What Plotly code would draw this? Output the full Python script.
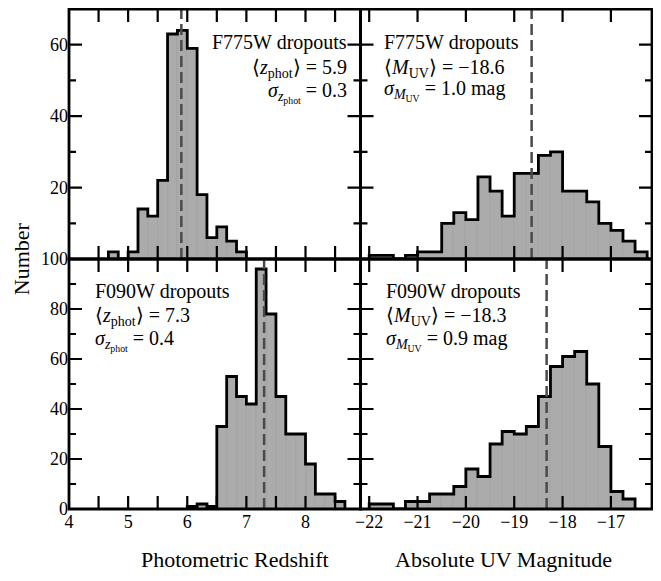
# _*_ coding: utf-8 _*_

"""
redshift / UV magnitude histograms of F775W and F090W dropouts
"""

import plotly.graph_objects as go
from plotly.subplots import make_subplots

# data ===============================================================================================================================
# photometric redshift histograms (bin width 1/6)
Z_WIDTH = 1 / 6
Z_LO_F775W = 4 + 4 / 6
Z_CNT_F775W = [2, 0, 2, 14, 12, 22, 63, 64, 59, 18, 6, 9, 5, 2]
Z_LO_F090W = 6.0
Z_CNT_F090W = [1, 2, 1, 33, 53, 45, 42, 96, 78, 45, 30, 30, 18, 6, 6, 3]

# absolute UV magnitude histograms (bin width 0.25 mag)
M_WIDTH = 0.25
M_LO_F775W = -22.0
M_CNT_F775W = [1, 1, 0, 1, 2, 2, 10, 13, 11, 23, 19, 12, 24, 24, 29, 30, 19, 19, 16, 10, 8, 5, 2]
M_LO_F090W = -22.0
M_CNT_F090W = [2, 2, 0, 3, 3, 6, 6, 9, 16, 13, 26, 31, 30, 33, 45, 57, 61, 63, 50, 25, 7, 4]

# means drawn as dashed lines
Z_MEAN = [5.9, 7.3]
M_MEAN = [-18.64, -18.33]

# axis ranges and tick positions
Z_RANGE = [4.0, 8.93]
M_RANGE = [-22.18, -16.15]
Y_TOP_RANGE = [0, 70]
Y_BOT_RANGE = [0, 100]
Z_TICKS = [4.5, 5, 5.5, 6, 6.5, 7, 7.5, 8, 8.5]
M_TICKS = [-22, -21, -20, -19, -18, -17]
Y_TOP_MAJOR = [20, 40, 60]
Y_TOP_MINOR = [10, 30, 50]
Y_BOT_MAJOR = [20, 40, 60, 80]
Y_BOT_MINOR = [10, 30, 50, 70, 90]

# panel labels
LABELS = [
    ["F775W dropouts", "⟨<i>z</i><sub>phot</sub>⟩ = 5.9", "<i>σ</i><sub><i>z</i><sub>phot</sub></sub> = 0.3"],
    ["F775W dropouts", "⟨<i>M</i><sub>UV</sub>⟩ = −18.6", "<i>σ</i><sub><i>M</i><sub>UV</sub></sub> = 1.0 mag"],
    ["F090W dropouts", "⟨<i>z</i><sub>phot</sub>⟩ = 7.3", "<i>σ</i><sub><i>z</i><sub>phot</sub></sub> = 0.4"],
    ["F090W dropouts", "⟨<i>M</i><sub>UV</sub>⟩ = −18.3", "<i>σ</i><sub><i>M</i><sub>UV</sub></sub> = 0.9 mag"],
]

FONT = "Liberation Serif"
FILL = "#ababab"
LW = 2.8  # frame line width
PANEL_W = 291.5  # panel size in px, used for tick lengths
PANEL_H = 250.0


def add_hist(fig, lo, width, counts, row, col):
    edges = [lo + i * width for i in range(len(counts) + 1)]
    centers = [(edges[i] + edges[i + 1]) / 2 for i in range(len(counts))]
    fig.add_trace(go.Bar(x=centers, y=counts, width=width, marker=dict(color=FILL, line=dict(color="#9c9c9c", width=0.6)),
                         showlegend=False, hoverinfo="skip"), row=row, col=col)
    xs = [edges[0]] + edges[:-1] + [edges[-1], edges[-1]]
    ys = [0] + counts + [counts[-1], 0]
    fig.add_trace(go.Scatter(x=xs, y=ys, mode="lines", line=dict(color="black", width=2.8, shape="hv"),
                             showlegend=False, hoverinfo="skip"), row=row, col=col)


def add_ticks(fig, xrange, yrange, xticks, ymajor, yminor, row, col):
    # inward ticks on all four sides of a panel, as one line trace with gaps
    xpp = (xrange[1] - xrange[0]) / PANEL_W
    ypp = (yrange[1] - yrange[0]) / PANEL_H
    xs, ys = [], []
    for v in xticks:
        xs += [v, v, None, v, v, None]
        ys += [yrange[0], yrange[0] + 13 * ypp, None, yrange[1], yrange[1] - 13 * ypp, None]
    for vals, ln in [(ymajor, 13), (yminor, 7)]:
        for v in vals:
            xs += [xrange[0], xrange[0] + ln * xpp, None, xrange[1], xrange[1] - ln * xpp, None]
            ys += [v, v, None, v, v, None]
    fig.add_trace(go.Scatter(x=xs, y=ys, mode="lines", line=dict(color="black", width=2.2), connectgaps=False,
                             showlegend=False, hoverinfo="skip"), row=row, col=col)


fig = make_subplots(rows=2, cols=2, horizontal_spacing=0, vertical_spacing=0)

add_hist(fig, Z_LO_F775W, Z_WIDTH, Z_CNT_F775W, 1, 1)
add_hist(fig, M_LO_F775W, M_WIDTH, M_CNT_F775W, 1, 2)
add_hist(fig, Z_LO_F090W, Z_WIDTH, Z_CNT_F090W, 2, 1)
add_hist(fig, M_LO_F090W, M_WIDTH, M_CNT_F090W, 2, 2)

add_ticks(fig, Z_RANGE, Y_TOP_RANGE, Z_TICKS, Y_TOP_MAJOR, Y_TOP_MINOR, 1, 1)
add_ticks(fig, M_RANGE, Y_TOP_RANGE, M_TICKS, Y_TOP_MAJOR, Y_TOP_MINOR, 1, 2)
add_ticks(fig, Z_RANGE, Y_BOT_RANGE, Z_TICKS, Y_BOT_MAJOR, Y_BOT_MINOR, 2, 1)
add_ticks(fig, M_RANGE, Y_BOT_RANGE, M_TICKS, Y_BOT_MAJOR, Y_BOT_MINOR, 2, 2)

# dashed mean lines and panel frames
for xr, yr, val in [("x", "y", Z_MEAN[0]), ("x2", "y2", M_MEAN[0]), ("x3", "y3", Z_MEAN[1]), ("x4", "y4", M_MEAN[1])]:
    fig.add_shape(type="line", xref=xr, yref=yr + " domain", x0=val, x1=val, y0=0, y1=1,
                  line=dict(color="#4a4a4a", width=2.5, dash="11px,5px"), layer="above")
    fig.add_shape(type="rect", xref=xr + " domain", yref=yr + " domain", x0=0, x1=1, y0=0, y1=1,
                  line=dict(color="black", width=LW), layer="above")

# axes
tfont = dict(family=FONT, size=18, color="black")
common = dict(showline=False, ticks="", showgrid=False, zeroline=False, tickfont=tfont)
zx = dict(common, range=Z_RANGE, dtick=1, tick0=0)
mx = dict(common, range=M_RANGE, dtick=1, tick0=0)

fig.update_layout(
    template="none",
    xaxis=dict(zx, showticklabels=False),
    xaxis3=dict(zx),
    xaxis2=dict(mx, showticklabels=False),
    xaxis4=dict(mx),
    yaxis=dict(common, range=Y_TOP_RANGE, tickvals=[20, 40, 60]),
    yaxis2=dict(common, range=Y_TOP_RANGE, showticklabels=False),
    yaxis3=dict(common, range=Y_BOT_RANGE, tickvals=[0, 20, 40, 60, 80, 100]),
    yaxis4=dict(common, range=Y_BOT_RANGE, showticklabels=False),
)

# panel texts
panel_pos = [("x", "y", 0.96, "right"), ("x2", "y2", 0.075, "left"), ("x3", "y3", 0.082, "left"), ("x4", "y4", 0.082, "left")]
line_y = [[0.868, 0.764, 0.664], [0.868, 0.764, 0.672], [0.872, 0.772, 0.676], [0.872, 0.772, 0.676]]
for (xr, yr, px, align), lines, ys in zip(panel_pos, LABELS, line_y):
    for txt, py in zip(lines, ys):
        fig.add_annotation(text=txt, xref=xr + " domain", yref=yr + " domain", x=px, y=py, xanchor=align, yanchor="middle",
                           showarrow=False, font=dict(family=FONT, size=20, color="black"))

# axis titles
title_font = dict(family=FONT, size=22, color="black")
fig.add_annotation(text="Number", xref="paper", yref="paper", x=-0.082, y=0.5, textangle=-90, showarrow=False,
                   xanchor="center", yanchor="middle", font=title_font)
fig.add_annotation(text="Photometric Redshift", xref="paper", yref="paper", x=0.285, y=-0.1, showarrow=False,
                   xanchor="center", yanchor="middle", font=title_font)
fig.add_annotation(text="Absolute UV Magnitude", xref="paper", yref="paper", x=0.745, y=-0.1, showarrow=False,
                   xanchor="center", yanchor="middle", font=title_font)

# the page adds an 8 px body margin, so the figure is 8 px smaller than the window
fig.update_layout(width=653, height=573, margin=dict(l=61, r=9, t=1, b=72), bargap=0,
                  plot_bgcolor="white", paper_bgcolor="white", font=dict(family=FONT))

fig.write_html("out.html")
